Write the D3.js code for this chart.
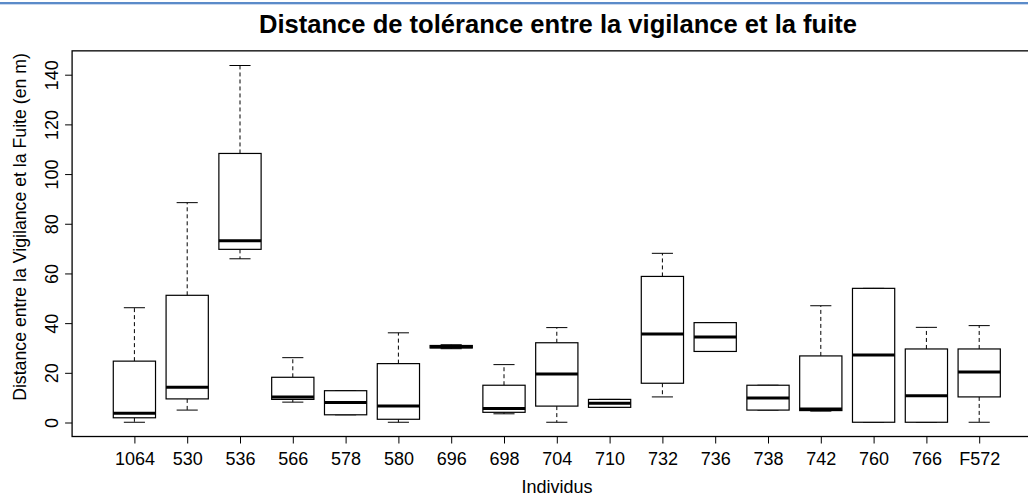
<!DOCTYPE html>
<html><head><meta charset="utf-8">
<script src="https://cdn.jsdelivr.net/npm/d3@7"></script>
<style>body{margin:0;background:#fff}svg{display:block;font-family:"Liberation Sans",Arial,sans-serif}</style>
</head><body><svg id="c" width="1028" height="497"></svg>
<script>
const categories = ["1064","530","536","566","578","580","696","698","704","710","732","736","738","742","760","766","F572"];
const whiskerLow  = [0.1, 5.0, 65.9, 8.2, 3.1, 0.1, 29.7, 3.5, 0.1, 6.1, 10.3, 28.6, 5.0, 4.6, 0.1, 0.1, 0.1];
const q1          = [1.9, 9.5, 69.7, 9.3, 3.1, 1.3, 30.0, 4.1, 6.6, 6.1, 15.8, 28.6, 5.0, 4.8, 0.1, 0.1, 10.3];
const medians     = [3.7, 14.2, 73.2, 10.3, 8.1, 6.6, 30.5, 5.6, 19.5, 7.7, 35.6, 34.4, 9.9, 5.4, 27.2, 10.8, 20.3];
const q3          = [24.7, 51.2, 108.3, 18.2, 12.8, 23.7, 31.0, 15.0, 32.1, 9.3, 58.8, 40.2, 15.0, 26.8, 54.0, 29.6, 29.6];
const whiskerHigh = [46.2, 88.5, 143.7, 26.1, 12.8, 36.1, 31.3, 23.3, 38.2, 9.3, 68.1, 40.2, 15.0, 47.0, 54.0, 38.3, 39.0];
const yTicks = [0, 20, 40, 60, 80, 100, 120, 140];

(function(){
const svg = d3.select("#c");
svg.append("rect").attr("x",0).attr("y",2).attr("width",1028).attr("height",2).attr("fill","#5b8bc9");
svg.append("rect").attr("x",0).attr("y",4).attr("width",1028).attr("height",1).attr("fill","#c9d8ee");

const x = d3.scaleLinear().domain([1, 17]).range([134.4, 979.2]);
const y = d3.scaleLinear().domain([0, 140]).range([422.5, 74.7]);
const unit = x(2) - x(1);
const bw = unit * 0.8;
const pLeft = x(1 - 1.18), pRight = x(17 + 1.18);
const pTop = y(149.6), pBottom = y(-5.64);

svg.append("rect").attr("x",pLeft).attr("y",pTop).attr("width",pRight-pLeft).attr("height",pBottom-pTop)
  .attr("fill","none").attr("stroke","#000").attr("stroke-width",1.3);

const yAxis = svg.append("g").attr("transform",`translate(${pLeft},0)`)
  .call(d3.axisLeft(y).tickValues(yTicks).tickSize(7).tickFormat(d3.format("d")));
yAxis.select(".domain").remove();
yAxis.selectAll("line").attr("stroke","#000");
yAxis.selectAll(".tick text").attr("font-size",18).attr("fill","#000")
  .attr("transform","rotate(-90)").attr("x",0).attr("y",-14).attr("dy","0").attr("text-anchor","middle");

const xAxis = svg.append("g").attr("transform",`translate(0,${pBottom})`)
  .call(d3.axisBottom(x).tickValues(d3.range(1,18)).tickSize(7).tickPadding(9).tickFormat(i => categories[i-1]));
xAxis.select(".domain").remove();
xAxis.selectAll("line").attr("stroke","#000");
xAxis.selectAll("text").attr("font-size",18).attr("fill","#000");

const g = svg.append("g");
categories.forEach((c,i) => {
  const cx = x(i+1);
  g.append("line").attr("x1",cx).attr("x2",cx).attr("y1",y(q3[i])).attr("y2",y(whiskerHigh[i]))
    .attr("stroke","#000").attr("stroke-dasharray","4,3");
  g.append("line").attr("x1",cx).attr("x2",cx).attr("y1",y(q1[i])).attr("y2",y(whiskerLow[i]))
    .attr("stroke","#000").attr("stroke-dasharray","4,3");
  [whiskerHigh[i], whiskerLow[i]].forEach(v => {
    g.append("line").attr("x1",cx-bw/4).attr("x2",cx+bw/4).attr("y1",y(v)).attr("y2",y(v))
      .attr("stroke","#000").attr("stroke-width",1);
  });
  g.append("rect").attr("x",cx-bw/2).attr("width",bw).attr("y",y(q3[i])).attr("height",y(q1[i])-y(q3[i]))
    .attr("fill","#fff").attr("stroke","#000").attr("stroke-width",1.2);
  g.append("line").attr("x1",cx-bw/2).attr("x2",cx+bw/2).attr("y1",y(medians[i])).attr("y2",y(medians[i]))
    .attr("stroke","#000").attr("stroke-width",3);
});

svg.append("text").attr("x",558).attr("y",33).attr("text-anchor","middle")
  .attr("font-size",25).attr("font-weight","bold")
  .attr("textLength",598).attr("lengthAdjust","spacingAndGlyphs")
  .text("Distance de tolérance entre la vigilance et la fuite");
svg.append("text").attr("x",557).attr("y",493).attr("text-anchor","middle")
  .attr("font-size",18).text("Individus");
svg.append("text").attr("transform","translate(26,227) rotate(-90)").attr("text-anchor","middle")
  .attr("font-size",17.7).text("Distance entre la Vigilance et la Fuite (en m)");
})();
</script></body></html>
